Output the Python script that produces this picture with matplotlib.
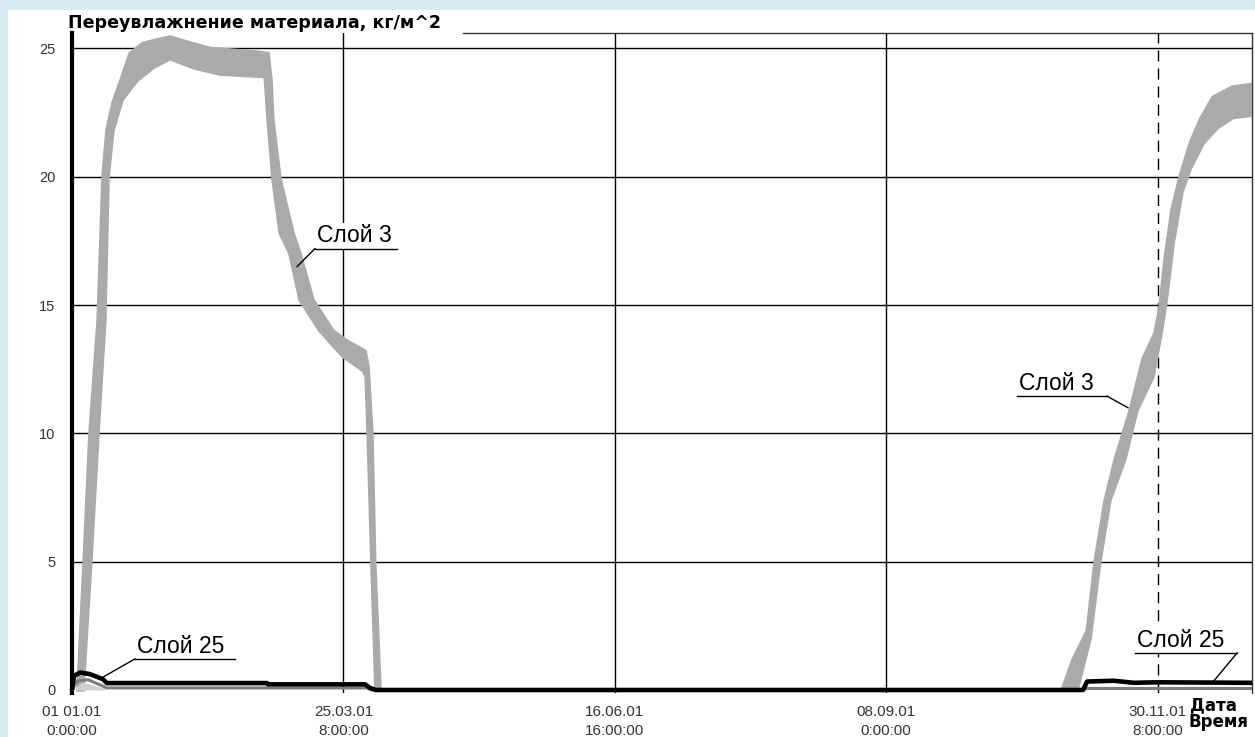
import numpy as np
import matplotlib.pyplot as plt
from matplotlib.patches import Rectangle

# x is days from 01.01.01 0:00, y is overwetting in kg/m^2
x_ticks = [0, 83.333, 166.667, 250.0, 333.333]
x_tick_labels = ["01 01.01\n0:00:00", "25.03.01\n8:00:00", "16.06.01\n16:00:00",
                 "08.09.01\n0:00:00", "30.11.01\n8:00:00"]
y_ticks = [0, 5, 10, 15, 20, 25]

# layer 3, spring: outer edge of the grey band (left -> right)
l3a_outer_x = [1.8, 3.7, 5.5, 8.0, 9.5, 10.7, 12.6, 15.4, 17.8, 21.8, 30.1, 35.3, 42.4,
               57.7, 60.2, 61.1, 61.7, 63.9, 67.9, 70.0, 74.0, 80.1, 84.4, 90.0, 90.9,
               92.1, 93.0, 94.6]
l3a_outer_y = [0, 5.0, 10.0, 14.4, 20.0, 21.8, 22.9, 23.9, 24.8, 25.2, 25.45, 25.25, 25.0,
               24.85, 24.8, 23.8, 22.2, 19.9, 17.8, 17.0, 15.2, 14.0, 13.6, 13.2, 12.6,
               10.0, 4.8, 0]
# inner edge (right -> left)
l3a_inner_x = [93.3, 92.1, 90.9, 90.3, 89.4, 83.2, 76.1, 70.0, 66.9, 63.9, 61.7, 60.2,
               59.3, 45.4, 37.2, 30.1, 24.9, 20.0, 15.4, 12.6, 11.1, 10.1, 8.0, 5.8, 3.4]
l3a_inner_y = [0, 4.8, 10.0, 12.2, 12.45, 13.0, 14.0, 15.2, 17.0, 17.8, 19.9, 22.2,
               23.9, 24.0, 24.25, 24.6, 24.25, 23.75, 23.0, 21.8, 20.0, 14.4, 10.0, 5.0, 0]

# layer 3, late autumn
l3b_outer_x = [304.0, 307.4, 311.7, 314.1, 317.2, 320.3, 324.9, 328.8, 332.5, 334.0,
               335.6, 337.7, 340.2, 343.3, 346.3, 350.3, 356.4, 362.3]
l3b_outer_y = [0, 1.2, 2.3, 5.0, 7.4, 9.0, 10.9, 12.9, 13.9, 14.9, 16.8, 18.7, 20.0,
               21.3, 22.2, 23.1, 23.5, 23.6]
l3b_inner_x = [362.3, 356.4, 351.6, 347.3, 343.3, 340.8, 338.1, 336.3, 334.7, 331.9,
               327.0, 323.3, 318.7, 315.6, 312.6, 308.6]
l3b_inner_y = [22.4, 22.3, 21.9, 21.3, 20.3, 19.4, 17.4, 15.5, 14.1, 12.2, 10.9, 9.0,
               7.4, 5.0, 2.0, 0]

# layer 25 (black) and the thin layers under it
l25_x = [0, 0.6, 2.5, 5.5, 9.5, 10.7, 59.9, 60.2, 90.0, 91.5, 93.3, 310.4, 311.7,
         320.0, 326.0, 333.1, 362.3]
l25_y = [0, 0.55, 0.68, 0.62, 0.42, 0.27, 0.27, 0.22, 0.22, 0.08, 0, 0, 0.33,
         0.36, 0.28, 0.3, 0.28]
mid_x = [0, 1.5, 5.0, 9.5, 10.7, 90.5, 92.0, 310.0, 311.7, 362.3]
mid_y = [0, 0.35, 0.4, 0.15, 0.08, 0.08, 0, 0, 0.06, 0.06]
low_x = [1.0, 3.0, 6.0, 9.0, 10.5]
low_y = [0.08, 0.3, 0.22, 0.1, 0.03]

GREY = "#aaaaaa"

fig = plt.figure(figsize=(12.55, 7.37), dpi=100, facecolor="#d8ecf3")
fig.patches.append(Rectangle((8 / 1255, 0), 1, 1 - 10 / 737, transform=fig.transFigure,
                             facecolor="white", edgecolor="none", zorder=-10))
ax = fig.add_axes([72 / 1255, 0.0603, 1180 / 1255, 0.8949])
ax.set_zorder(5)
ax.set_facecolor("white")
ax.set_xlim(0, 362.3)
ax.set_ylim(-0.1, 25.6)

# grid
ax.set_yticks(y_ticks)
ax.set_xticks(x_ticks)
ax.set_xticklabels(x_tick_labels, fontsize=11, color="#333333", linespacing=1.45,
                   family="Liberation Sans")
ax.set_yticklabels([str(v) for v in y_ticks], fontsize=10.5, color="#333333",
                   family="Liberation Sans")
ax.tick_params(length=0)
ax.tick_params(axis="x", pad=9)
ax.tick_params(axis="y", pad=12)
for yt in y_ticks[1:]:
    ax.axhline(yt, color="black", lw=1, zorder=1)
for xt in x_ticks[1:-1]:
    ax.axvline(xt, color="black", lw=1, zorder=1)
ax.axvline(x_ticks[-1], color="black", lw=1, ls=(0, (8, 5)), zorder=1)

ax.spines["bottom"].set_visible(False)
ax.spines["left"].set_linewidth(3)
ax.spines["right"].set_linewidth(1)
ax.spines["right"].set_color("#333333")
ax.spines["top"].set_linewidth(1)
ax.spines["top"].set_color("#333333")
ax.spines["top"].set_bounds(120, 362.3)

# layer 3 bands
for ox, oy, ix, iy in [(l3a_outer_x, l3a_outer_y, l3a_inner_x, l3a_inner_y),
                       (l3b_outer_x, l3b_outer_y, l3b_inner_x, l3b_inner_y)]:
    ax.fill(ox + ix, oy + iy, color=GREY, lw=2.5, zorder=3)

# layer 25 and neighbours
ax.fill_between(low_x, 0, low_y, color="#d0d0d0", lw=0, zorder=4)
ax.plot(mid_x, mid_y, color="#7d7d7d", lw=2.2, zorder=4, solid_capstyle="butt")
ax.plot(l25_x, l25_y, color="black", lw=3.3, zorder=5, solid_capstyle="butt",
        clip_on=False)

# labels with underline and leader
notes = [("Слой 3", 74.6, 99.8, 17.2, 69.1, 16.5, "left"),
         ("Слой 3", 290.2, 317.8, 11.45, 324.2, 11.0, "right"),
         ("Слой 25", 19.3, 50.0, 1.21, 9.5, 0.5, "left"),
         ("Слой 25", 326.4, 357.7, 1.44, 350.3, 0.31, "right")]
for txt, x0, x1, yl, px, py, side in notes:
    ax.text(x0 + 0.6, yl + 0.24, txt, fontsize=16.5, family="Liberation Sans",
            ha="left", va="baseline", zorder=6,
            bbox=dict(facecolor="white", edgecolor="none", pad=1))
    ax.plot([x0, x1], [yl, yl], color="black", lw=1, zorder=6)
    sx = x0 if side == "left" else x1
    ax.plot([sx, px], [yl, py], color="black", lw=1, zorder=6)

fig.text(68 / 1255, 1 - 23 / 737, "Переувлажнение материала, кг/м^2", fontsize=12.6,
         fontweight="bold", va="center", ha="left")
fig.text(1190 / 1255, 1 - 705 / 737, "Дата", fontsize=12, fontweight="bold",
         va="center", ha="left")
fig.text(1189 / 1255, 1 - 722 / 737, "Время", fontsize=12, fontweight="bold",
         va="center", ha="left")

fig.savefig("out.png", dpi=100, facecolor=fig.get_facecolor())
